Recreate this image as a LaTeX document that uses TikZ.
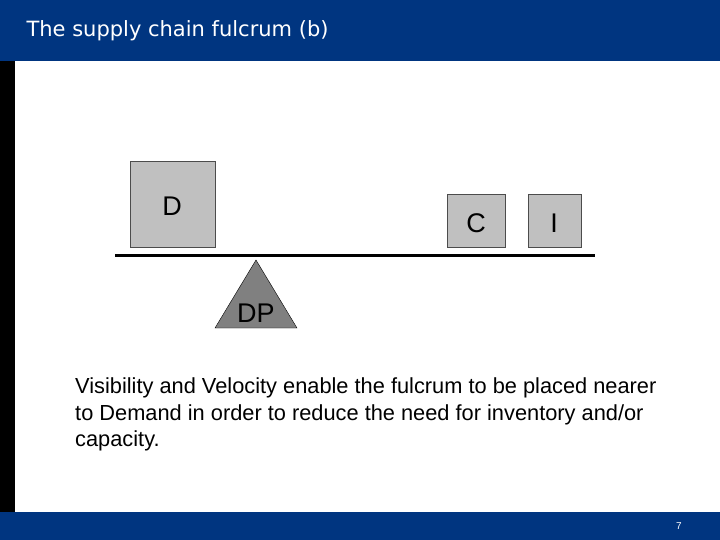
\documentclass[tikz,border=0pt]{standalone}
\usepackage{fontspec}
\setmainfont{Liberation Sans}
\newfontfamily\titlefont{DejaVu Sans}
\definecolor{barblue}{RGB}{0,53,128}
\definecolor{boxgray}{RGB}{192,192,192}
\definecolor{fulgray}{RGB}{128,128,128}
\begin{document}
\begin{tikzpicture}[x=1pt,y=-1pt,
  weight/.style={draw=black!70,fill=boxgray,line width=1pt},
  wlabel/.style={font=\fontsize{27}{27}\selectfont,inner sep=0pt}]
\useasboundingbox (0,0) rectangle (720,540);
\fill[barblue] (0,0) rectangle (720,61);
\fill[barblue] (0,512) rectangle (720,540);
\fill[black] (0,61) rectangle (15,512);
\node[anchor=west,text=white,font=\titlefont\fontsize{21}{21}\selectfont] (title) at (23,31) {The supply chain fulcrum (b)};
% weights on the beam
\draw[weight] (130,162) rectangle (215,247);
\node[wlabel] (d) at (172,206) {D};
\draw[weight] (447,195) rectangle (505,247);
\node[wlabel] (c) at (476,223) {C};
\draw[weight] (528,195) rectangle (581,247);
\node[wlabel] (i) at (554,223) {I};
% beam and fulcrum
\draw[line width=3pt] (115,255) -- (595,255);
\draw[fill=fulgray,draw=black] (256,260) -- (297,328) -- (215,328) -- cycle;
\node[wlabel] (dp) at (256,313) {DP};
\node[anchor=north west,align=left,inner sep=0pt,font=\fontsize{21.8}{26.5}\selectfont] (note) at (75,378)
  {Visibility and Velocity enable the fulcrum to be placed nearer\\to Demand in order to reduce the need for inventory and/or\\capacity.};
\node[text=white,font=\fontsize{10}{10}\selectfont] (page) at (679,526) {7};
\end{tikzpicture}
\end{document}
